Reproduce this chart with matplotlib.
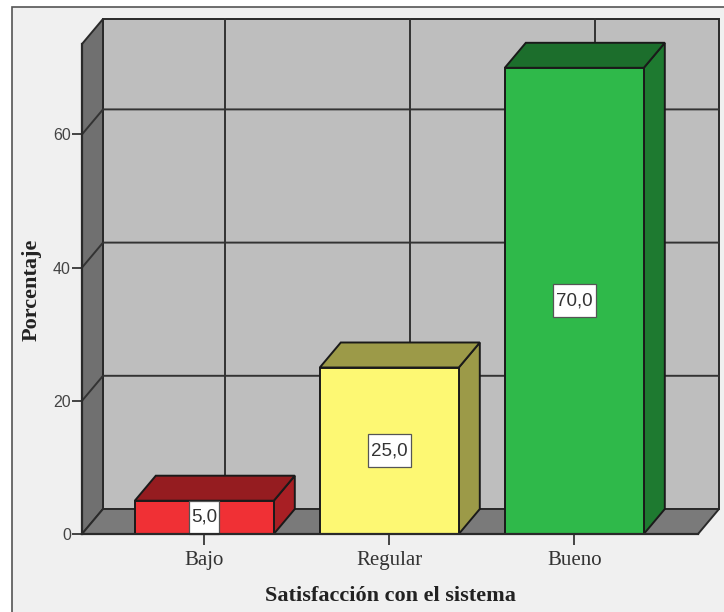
import matplotlib
matplotlib.use('Agg')
import matplotlib.pyplot as plt
from matplotlib.patches import Polygon, Rectangle

categorias = ['Bajo', 'Regular', 'Bueno']
porcentajes = [5.0, 25.0, 70.0]
etiquetas = ['5,0', '25,0', '70,0']
yticks = [0, 20, 40, 60]
colores_frente = ['#f03035', '#fdf873', '#2fb94a']
colores_arriba = ['#951c20', '#9c9a48', '#1c6e2c']
colores_lado = ['#a81f24', '#9c9a48', '#1e7a30']

W, H = 724, 612
fig = plt.figure(figsize=(W / 100, H / 100), dpi=100, facecolor='white')

# marco exterior del visor, por debajo de los ejes
fig.add_artist(Rectangle((12 / W, -0.05), 1, 1.05 - 7 / H, transform=fig.transFigure,
                         facecolor='#f0f0f0', edgecolor='#555555', linewidth=1.2, zorder=-1))

# ejes sobre el plano frontal
ax = fig.add_axes([82 / W, 1 - 534 / H, 616 / W, 490 / H])
ax.patch.set_visible(False)
ymax = 490 / 6.66
ax.set_xlim(-122.3 / 185, 493.7 / 185)
ax.set_ylim(0, ymax)

# profundidad 3D en unidades de datos
dx = 21 / 185
dy = 25 / 6.66
x0, x1 = ax.get_xlim()
borde = '#2a2a2a'
lw = 1.4

# pared del fondo, pared izquierda y suelo
ax.add_patch(Polygon([(x0 + dx, dy), (x1 + dx, dy), (x1 + dx, ymax + dy), (x0 + dx, ymax + dy)],
                     facecolor='#bebebe', edgecolor=borde, linewidth=lw, clip_on=False, zorder=1))
ax.add_patch(Polygon([(x0, 0), (x0 + dx, dy), (x0 + dx, ymax + dy), (x0, ymax)],
                     facecolor='#707070', edgecolor=borde, linewidth=lw, clip_on=False, zorder=1))
ax.add_patch(Polygon([(x0, 0), (x1, 0), (x1 + dx, dy), (x0 + dx, dy)],
                     facecolor='#7a7a7a', edgecolor=borde, linewidth=lw, clip_on=False, zorder=1))

# rejilla
for v in yticks[1:]:
    ax.plot([x0, x0 + dx, x1 + dx], [v, v + dy, v + dy], color='#333333', lw=lw,
            clip_on=False, zorder=2)
for i in range(len(categorias)):
    ax.plot([i + dx, i + dx], [dy, ymax + dy], color='#333333', lw=lw, clip_on=False, zorder=2)

# barras
ancho = 139 / 185
for i, v in enumerate(porcentajes):
    a = i - ancho / 2
    b = i + ancho / 2
    ax.add_patch(Polygon([(b, 0), (b + dx, dy), (b + dx, v + dy), (b, v)],
                         facecolor=colores_lado[i], edgecolor='#1a1a1a', linewidth=lw,
                         clip_on=False, zorder=3))
    ax.add_patch(Polygon([(a, v), (b, v), (b + dx, v + dy), (a + dx, v + dy)],
                         facecolor=colores_arriba[i], edgecolor='#1a1a1a', linewidth=lw,
                         clip_on=False, zorder=3))
    ax.add_patch(Rectangle((a, 0), ancho, v, facecolor=colores_frente[i], edgecolor='#1a1a1a',
                           linewidth=lw, clip_on=False, zorder=4))
    # caja de la etiqueta, nunca mas alta que la barra
    caja_w = (13 * len(etiquetas[i]) - 9) / 185
    caja_h = min(v, 33 / 6.66)
    ax.add_patch(Rectangle((i - caja_w / 2, v / 2 - caja_h / 2), caja_w, caja_h, facecolor='white',
                           edgecolor='#555555', linewidth=0.9, clip_on=False, zorder=5))
    ax.text(i, v / 2, etiquetas[i], ha='center', va='center', fontsize=13.5, color='#333333',
            family='Liberation Sans', zorder=6, clip_on=False)

for lado in ['top', 'right']:
    ax.spines[lado].set_visible(False)
for lado in ['left', 'bottom']:
    ax.spines[lado].set_color(borde)
    ax.spines[lado].set_linewidth(1.6)
    ax.spines[lado].set_zorder(5)

ax.set_xticks(range(len(categorias)))
ax.set_xticklabels(categorias, family='Liberation Serif', fontsize=15, color='#333333')
ax.set_yticks(yticks)
ax.set_yticklabels(yticks, family='Liberation Sans', fontsize=11.5, color='#444444')
ax.tick_params(axis='x', length=8, width=1.4, color='#444444', pad=4)
ax.tick_params(axis='y', length=7, width=1.4, color='#444444', pad=1)

ax.set_xlabel('Satisfacción con el sistema', family='Liberation Serif', fontweight='bold',
              fontsize=16, color='#222222', labelpad=12)
ax.set_ylabel('Porcentaje', family='Liberation Serif', fontweight='bold',
              fontsize=16, color='#222222')
ax.yaxis.set_label_coords((42 - 82) / 616, (534 - 290) / 490)

fig.savefig('out.png', dpi=100, facecolor=fig.get_facecolor())
